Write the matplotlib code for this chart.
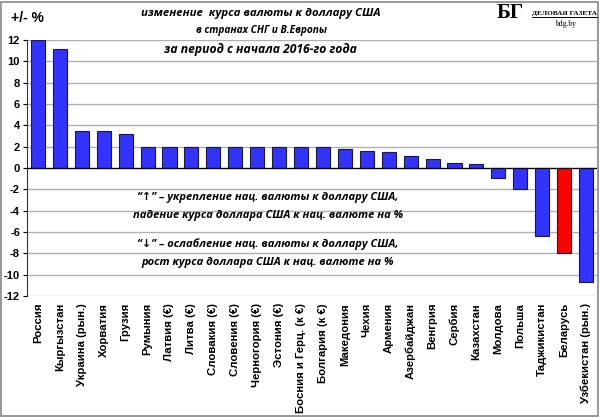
import matplotlib
matplotlib.use("Agg")
import matplotlib.pyplot as plt
from matplotlib.patches import Rectangle

countries = ["Россия", "Кыргызстан", "Украина (рын.)", "Хорватия", "Грузия", "Румыния",
             "Латвия (€)", "Литва (€)", "Словакия (€)", "Словения (€)", "Черногория (€)",
             "Эстония (€)", "Босния и Герц. (к €)", "Болгария (к €)", "Македония", "Чехия",
             "Армения", "Азербайджан", "Венгрия", "Сербия", "Казахстан", "Молдова", "Польша",
             "Таджикистан", "Беларусь", "Узбекистан (рын.)"]
values = [12.0, 11.13, 3.45, 3.45, 3.2, 2.0,
          1.95, 1.95, 1.95, 1.95, 1.95,
          1.95, 1.95, 1.95, 1.78, 1.58,
          1.48, 1.08, 0.8, 0.5, 0.42, -0.97, -1.98,
          -6.35, -7.95, -10.7]
highlight = "Беларусь"
yticks = list(range(-12, 13, 2))

title_lines = ["изменение  курса валюты к доллару США", "в странах СНГ и В.Европы",
               "за период с начала 2016-го года"]
note_lines = ["“↑” – укрепление нац. валюты к доллару США,",
              "падение курса доллара США к нац. валюте на %",
              "“↓” – ослабление нац. валюты к доллару США,",
              "рост курса доллара США к нац. валюте на %"]

plt.rcParams['font.family'] = ['Liberation Sans', 'DejaVu Sans']

fig = plt.figure(figsize=(6.0, 4.17), dpi=100)
ax = fig.add_axes([27/600, 1-296/417, 570/600, (296-40)/417])

colors = ["#ff0000" if c == highlight else "#3333ff" for c in countries]
x = list(range(len(countries)))
ax.bar(x, values, width=0.64, color=colors, edgecolor="#1a1a40", linewidth=0.8, zorder=3)
ax.set_xlim(-0.5, len(countries) - 0.5)
ax.set_ylim(-12, 12)
ax.set_yticks(yticks)
ax.set_yticklabels([str(v) for v in yticks], fontsize=8, fontweight='bold')
ax.yaxis.grid(True, color="#b0b0b0", linewidth=1.0, zorder=0)
ax.axhline(0, color="black", linewidth=0.9, zorder=4)
ax.set_xticks(x)
ax.set_xticklabels(countries, rotation=90, fontsize=8.2, fontweight='bold', va='top')
ax.tick_params(axis='x', length=0, pad=5)
ax.tick_params(axis='y', length=3, width=0.8, direction='out', pad=2)
for s in ['top', 'right', 'bottom']:
    ax.spines[s].set_visible(False)
ax.spines['left'].set_color("#333333")

# titles
tf = ['Open Sans', 'DejaVu Sans']
fig.text(261/600, 1-13/417, title_lines[0], ha='center', va='center', fontsize=8.2,
         fontweight='bold', style='italic', family=tf)
fig.text(261/600, 1-31/417, title_lines[1], ha='center', va='center', fontsize=7.3,
         fontweight='bold', style='italic', family=tf)
fig.text(260/600, 1-50/417, title_lines[2], ha='center', va='center', fontsize=8.7,
         fontweight='bold', style='italic', family=tf)
fig.text(27/600, 1-18/417, "+/- %", ha='center', va='center', fontsize=10, fontweight='bold')

# logo
sf = ['Liberation Serif', 'DejaVu Serif']
fig.text(510/600, 1-13/417, "БГ", ha='center', va='center', fontsize=15, fontweight='bold',
         family=sf)
fig.text(564/600, 1-13/417, "ДЕЛОВАЯ ГАЗЕТА", ha='center', va='center', fontsize=5.2,
         fontweight='bold', family=sf)
fig.add_artist(plt.Line2D([532/600, 597/600], [1-17/417, 1-17/417], color='black', lw=0.7))
fig.text(566/600, 1-24/417, "bdg.by", ha='center', va='center', fontsize=5.5, family=sf)

# notes
ny = [197, 215, 244, 262]
for t, yy in zip(note_lines, ny):
    fig.text(268/600, 1-yy/417, t, ha='center', va='center', fontsize=8,
             fontweight='bold', style='italic', family=tf)

fig.add_artist(Rectangle((0.002, 0.003), 0.994, 0.992, transform=fig.transFigure,
                         fill=False, edgecolor="#888888", linewidth=1.2))

fig.savefig("out.png", dpi=100)
